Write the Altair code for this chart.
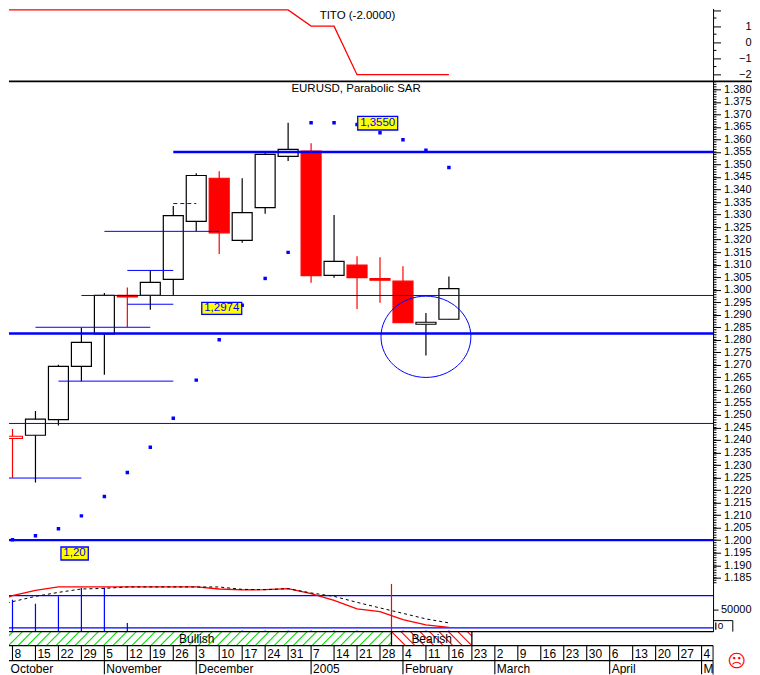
import altair as alt
import numpy as np
import pandas as pd

# ---- weekly candles (week index 0 = 8 Oct) ----
week = list(range(20))
high = [1.2444,1.2516,1.2700,1.2848,1.2987,1.3009,1.3077,1.3334,1.3465,1.3473,1.3445,1.3550,1.3667,1.3585,1.3298,1.3134,1.3130,1.3094,1.2907,1.3053]
low = [1.2249,1.2230,1.2458,1.2635,1.2660,1.2851,1.2920,1.2977,1.3233,1.3143,1.3187,1.3303,1.3514,1.3028,1.3048,1.2923,1.2948,1.2868,1.2737,1.2882]
body_top = [1.2415,1.2483,1.2694,1.2790,1.2977,1.2977,1.3029,1.3296,1.3456,1.3445,1.3308,1.3540,1.3560,1.3553,1.3113,1.3098,1.3044,1.3034,1.2870,1.3004]
body_bot = [1.2406,1.2419,1.2481,1.2694,1.2824,1.2971,1.2977,1.3041,1.3273,1.3227,1.3197,1.3328,1.3532,1.3056,1.3057,1.3048,1.3038,1.2868,1.2862,1.2882]
kind = ["hollow","up","up","up","up","down","up","up","up","down","up","up","up","down","up","down","down","down","up","up"]
sar = [1.2002,1.2018,1.2046,1.2097,1.2174,1.2270,1.2371,1.2487,1.2639,1.2800,1.2938,1.3045,1.3149,1.3667,1.3667,1.3660,1.3627,1.3599,1.3557,1.3488]

# ---- support / resistance levels ----
thick_y = [1.3550,1.2825,1.2000]
thick_a = [7,-2,-2]
thin_y = [1.2977,1.2466,1.2248,1.2635,1.2850,1.2942,1.3077,1.3233]
thin_a = [3,-2,-2,2,1,5,5,4]
thin_b = [30.5,30.5,3,7,6,7,7,9]
dash_y = [1.3344]
dash_a = [7]
dash_b = [8]

# ---- indicators ----
tito_x = [-1,12,13,14,15,19]
tito_y = [2,2,1,1,-2,-2]
vol = [72700,63600,80200,100000,100000,19800,0,0,0,0,2300,2300,2300,2300,2300,2300,0,2300,2300,2300]
ma_x = list(range(-1,20))
ma_red = [63600,81800,93900,101600,101600,101600,101600,101600,101600,101600,97000,94800,95500,97700,86400,71100,51600,45500,27300,15200,9800]
ma_blk = [54500,68200,80200,89300,97000,98400,101600,101600,101600,101600,101600,96100,95500,97700,88000,80200,66600,53900,41600,28900,19800]
vol_lines = [81800,8400]

# ---- time axis text ----
date_x = list(range(31))
date_labels = ["8","15","22","29","5","12","19","26","3","10","17","24","31","7","14","21","28","4","11","16","23","2","9","16","23","30","6","13","20","27","4"]
month_x = [-0.17,4,8,13,17,21,26,30]
month_labels = ["October","November","December","2005","February","March","April","May"]

FONT = "Liberation Sans"
BLUE = "#0000ff"
RED = "#ff0000"
W = 705
XMIN, XMAX = -0.1522, 30.5
xs = alt.Scale(domain=[XMIN, XMAX], nice=False, zero=False, padding=0)
X = lambda f="x": alt.X(f"{f}:Q", scale=xs, axis=None)

def y_axis(values, fmt, hide=None, tick=7.5):
    kw = {}
    if hide is not None:
        kw["labelExpr"] = f"datum.value=={hide}?'':datum.label"
    return alt.Axis(orient="right", values=values, format=fmt, title=None, grid=False,
                    domainColor="black", tickColor="black", labelColor="black",
                    tickSize=tick, labelPadding=38 - tick, labelAlign="right", labelBaseline="middle",
                    labelFont=FONT, labelFontSize=11, labelOverlap=False, labelFlush=False, **kw)

def ticks_layer(values, Yf, span=0.15):
    d = pd.DataFrame({"y": values, "x": XMAX, "x2": XMAX + span})
    return alt.Chart(d).mark_rule(color="black", strokeWidth=1, clip=False).encode(
        x=X(), x2="x2:Q", y=Yf())

# ---------- TITO pane ----------
ys_t = alt.Scale(domain=[-2.4136, 2.0926], nice=False, zero=False)
axis_t = y_axis([2,1,0,-1,-2], "d", hide=2)
Yt = lambda f="y": alt.Y(f"{f}:Q", scale=ys_t, axis=axis_t)
t_line = alt.Chart(pd.DataFrame({"x": tito_x, "y": tito_y})).mark_line(color=RED, strokeWidth=1.3, clip=True).encode(x=X(), y=Yt())
t_text = alt.Chart(pd.DataFrame({"x": [15.02], "y": [1.6], "t": ["TITO (-2.0000)"]})).mark_text(
    font=FONT, fontSize=11.5, color="black", baseline="middle", clip=True).encode(x=X(), y=Yt(), text="t:N")
t_min = ticks_layer([1.5,0.5,-0.5,-1.5], Yt)
t_base = alt.Chart(pd.DataFrame({"x": [XMIN], "x2": [32.5], "y": [-2.4136]})).mark_rule(color="black", strokeWidth=1.6, clip=False).encode(
    x=X(), x2="x2:Q", y=Yt())
pane_t = alt.layer(t_line, t_text, t_min, t_base).properties(width=W, height=73)

# ---------- Price pane ----------
ys_p = alt.Scale(domain=[1.18263, 1.38319], nice=False, zero=False)
axis_p = y_axis(list(np.round(np.arange(1.185,1.3801,0.005),3)), ".3f")
Yp = lambda f="y": alt.Y(f"{f}:Q", scale=ys_p, axis=axis_p)
candles = pd.DataFrame({"x": week, "hi": high, "lo": low, "top": body_top, "bot": body_bot, "kind": kind, "sar": sar})
stroke_s = alt.Scale(domain=["up","down","hollow"], range=["black",RED,RED])
fill_s = alt.Scale(domain=["up","down","hollow"], range=["white",RED,"white"])
wicks = alt.Chart(candles).mark_rule(strokeWidth=1.2, clip=True).encode(
    x=X(), y=Yp("hi"), y2="lo:Q", stroke=alt.Stroke("kind:N", scale=stroke_s, legend=None))
bodies = alt.Chart(candles).mark_bar(size=20, strokeWidth=1.2, clip=True, orient="vertical").encode(
    x=X(), y=Yp("top"), y2="bot:Q",
    fill=alt.Fill("kind:N", scale=fill_s, legend=None),
    stroke=alt.Stroke("kind:N", scale=stroke_s, legend=None))
thin = alt.Chart(pd.DataFrame({"x": thin_a, "x2": thin_b, "y": thin_y})).mark_rule(color=BLUE, strokeWidth=1, clip=True).encode(
    x=X(), x2="x2:Q", y=Yp())
thick = alt.Chart(pd.DataFrame({"x": thick_a, "x2": [XMAX]*3, "y": thick_y})).mark_rule(color=BLUE, strokeWidth=2.4, clip=True).encode(
    x=X(), x2="x2:Q", y=Yp())
dash = alt.Chart(pd.DataFrame({"x": dash_a, "x2": dash_b, "y": dash_y})).mark_rule(color=BLUE, strokeWidth=1, strokeDash=[4,3], clip=True).encode(
    x=X(), x2="x2:Q", y=Yp())
dots = alt.Chart(candles).mark_point(shape="square", filled=True, size=12, color=BLUE, opacity=1, clip=True).encode(
    x=X(), y=Yp("sar"))
ellipse = alt.Chart(pd.DataFrame({"x": [18.0], "y": [1.2812]})).mark_point(
    shape="M -1.106 0 A 1.106 1 0 1 0 1.106 0 A 1.106 1 0 1 0 -1.106 0 Z",
    filled=False, size=6624, color=BLUE, strokeWidth=1, opacity=1, clip=True).encode(x=X(), y=Yp())
tag = pd.DataFrame({"x": [15.03,8.24,2.11], "x2": [16.77,9.98,3.30],
                    "y": [1.36923,1.29495,1.19727], "y2": [1.36377,1.29017,1.19208],
                    "cx": [15.9,9.11,2.70], "cy": [1.36651,1.29256,1.19468],
                    "t": ["1,3550","1,2974","1,20"]})
tag_box = alt.Chart(tag).mark_rect(fill="#ffff00", stroke=BLUE, strokeWidth=1.3, clip=True).encode(
    x=X(), x2="x2:Q", y=Yp(), y2="y2:Q")
tag_txt = alt.Chart(tag).mark_text(font=FONT, fontSize=11.5, color=BLUE, baseline="middle", clip=True).encode(
    x=X("cx"), y=Yp("cy"), text="t:N")
title = alt.Chart(pd.DataFrame({"x": [14.96], "y": [1.3802], "t": ["EURUSD, Parabolic SAR"]})).mark_text(
    font=FONT, fontSize=11.5, color="black", baseline="middle", clip=True).encode(x=X(), y=Yp(), text="t:N")
p_min = ticks_layer(list(np.round(np.arange(1.183,1.3835,0.001),3)), Yp)
pane_p = alt.layer(wicks, bodies, thin, thick, dash, dots, ellipse, tag_box, tag_txt, title, p_min).properties(width=W, height=503)

# ---------- Volume pane ----------
ys_v = alt.Scale(domain=[0, 109091], nice=False, zero=False)
axis_v = y_axis([50000], "d", tick=5)
Yv = lambda f="y": alt.Y(f"{f}:Q", scale=ys_v, axis=axis_v)
vol_d = pd.DataFrame({"x": week, "y": vol, "y0": [0]*20})
bars = alt.Chart(vol_d).mark_rule(color=BLUE, strokeWidth=1.2, clip=True).encode(x=X(), y=Yv(), y2="y0:Q")
v_lines = alt.Chart(pd.DataFrame({"x": [XMIN]*2, "x2": [XMAX]*2, "y": vol_lines})).mark_rule(color=BLUE, strokeWidth=1.2, clip=True).encode(
    x=X(), x2="x2:Q", y=Yv())
red_l = alt.Chart(pd.DataFrame({"x": ma_x, "y": ma_red})).mark_line(color=RED, strokeWidth=1.3, clip=True).encode(x=X(), y=Yv())
blk_l = alt.Chart(pd.DataFrame({"x": ma_x, "y": ma_blk})).mark_line(color="black", strokeWidth=1, strokeDash=[3,3], clip=True).encode(x=X(), y=Yv())
marker = alt.Chart(pd.DataFrame({"x": [16.5], "y": [0], "y2": [109091]})).mark_rule(color=RED, strokeWidth=1.2, clip=True).encode(x=X(), y=Yv(), y2="y2:Q")
br_t = alt.Chart(pd.DataFrame({"x": [XMAX], "x2": [31.36], "y": [25000]})).mark_rule(color="black", strokeWidth=1, clip=False).encode(x=X(), x2="x2:Q", y=Yv())
br_r = alt.Chart(pd.DataFrame({"x": [31.36], "y": [0], "y2": [25000]})).mark_rule(color="black", strokeWidth=1, clip=False).encode(x=X(), y=Yv(), y2="y2:Q")
br_l = alt.Chart(pd.DataFrame({"x": [30.62], "y": [4000], "y2": [21000]})).mark_rule(color="black", strokeWidth=1.2, clip=False).encode(x=X(), y=Yv(), y2="y2:Q")
br_0 = alt.Chart(pd.DataFrame({"x": [30.82], "y": [12500], "t": ["0"]})).mark_text(font=FONT, fontSize=10, color="black", baseline="middle", clip=False).encode(x=X(), y=Yv(), text="t:N")
pane_v = alt.layer(bars, v_lines, red_l, blk_l, marker, br_t, br_r, br_l, br_0).properties(width=W, height=48)

# ---------- Bullish / Bearish band ----------
ys_b = alt.Scale(domain=[0, 14], nice=False, zero=False)
Yb = lambda f="y": alt.Y(f"{f}:Q", scale=ys_b, axis=None)
RISE, STEP = 14/23, 9.5/23
bx, bx2, by2 = [], [], []
for x0 in np.arange(-1.0, 16.5, STEP):
    x1 = min(x0 + RISE, 16.5)
    bx.append(x0); bx2.append(x1); by2.append((x1 - x0) / RISE * 14)
rx, rx2, ry2 = [], [], []
for x0 in np.arange(16.5, 20, STEP):
    x1 = min(x0 + RISE, 20)
    rx.append(x0); rx2.append(x1); ry2.append(14 - (x1 - x0) / RISE * 14)
hatch_g = alt.Chart(pd.DataFrame({"x": bx, "x2": bx2, "y": [0]*len(bx), "y2": by2})).mark_rule(color="#00dd00", strokeWidth=1.1, clip=True).encode(
    x=X(), x2="x2:Q", y=Yb(), y2="y2:Q")
hatch_r = alt.Chart(pd.DataFrame({"x": rx, "x2": rx2, "y": [14]*len(rx), "y2": ry2})).mark_rule(color=RED, strokeWidth=1.1, clip=True).encode(
    x=X(), x2="x2:Q", y=Yb(), y2="y2:Q")
band_sep = alt.Chart(pd.DataFrame({"x": [-0.47,16.5,20], "y": [0,0,0], "y2": [14,14,14]})).mark_rule(color="black", strokeWidth=1.3, clip=True).encode(
    x=X(), y=Yb(), y2="y2:Q")
band_lines = alt.Chart(pd.DataFrame({"x": [XMIN]*2, "x2": [XMAX]*2, "y": [0,14]})).mark_rule(color="black", strokeWidth=1.3, clip=False).encode(
    x=X(), x2="x2:Q", y=Yb())
band_txt = alt.Chart(pd.DataFrame({"x": [8.02,18.25], "y": [7,7], "t": ["Bullish","Bearish"]})).mark_text(
    font=FONT, fontSize=12, color="black", baseline="middle", clip=True).encode(x=X(), y=Yb(), text="t:N")
pane_b = alt.layer(hatch_g, hatch_r, band_sep, band_lines, band_txt).properties(width=W, height=14)

# ---------- Date row ----------
ys_d = alt.Scale(domain=[0, 1], nice=False, zero=False)
Yd = lambda f="y": alt.Y(f"{f}:Q", scale=ys_d, axis=None)
date_d = pd.DataFrame({"x": date_x, "y": [0]*31, "y2": [1]*31, "ty": [0.46]*31, "t": date_labels})
d_sep = alt.Chart(date_d).mark_rule(color="black", strokeWidth=1.1, clip=True).encode(x=X(), y=Yd(), y2="y2:Q")
d_txt = alt.Chart(date_d).mark_text(font=FONT, fontSize=12, color="black", align="left", baseline="middle", dx=2, clip=True).encode(
    x=X(), y=Yd("ty"), text="t:N")
d_line = alt.Chart(pd.DataFrame({"x": [XMIN], "x2": [XMAX], "y": [0]})).mark_rule(color="black", strokeWidth=1.3, clip=False).encode(
    x=X(), x2="x2:Q", y=Yd())
d_end = alt.Chart(pd.DataFrame({"x": [XMAX], "y": [0], "y2": [1]})).mark_rule(color="black", strokeWidth=1, clip=False).encode(x=X(), y=Yd(), y2="y2:Q")
pane_d = alt.layer(d_sep, d_txt, d_line, d_end).properties(width=W, height=15)

# ---------- Month row ----------
month_d = pd.DataFrame({"x": month_x, "y": [0]*8, "y2": [1]*8, "ty": [0.42]*8, "t": month_labels})
m_sep = alt.Chart(month_d[month_d.x >= 0]).mark_rule(color="black", strokeWidth=1.1, clip=True).encode(x=X(), y=Yd(), y2="y2:Q")
m_txt = alt.Chart(month_d).mark_text(font=FONT, fontSize=12, color="black", align="left", baseline="middle", dx=2, clip=True).encode(
    x=X(), y=Yd("ty"), text="t:N")
m_end = alt.Chart(pd.DataFrame({"x": [XMAX], "y": [0], "y2": [1]})).mark_rule(color="black", strokeWidth=1, clip=False).encode(x=X(), y=Yd(), y2="y2:Q")
face = alt.Chart(pd.DataFrame({"x": [31.53], "y": [0.93], "t": ["\u2639"]})).mark_text(
    font="DejaVu Sans", fontSize=18, color=RED, baseline="middle", clip=False).encode(x=X(), y=Yd(), text="t:N")
pane_m = alt.layer(m_sep, m_txt, m_end, face).properties(width=W, height=14)

chart = alt.vconcat(pane_t, pane_p, pane_v, pane_b, pane_d, pane_m, spacing=0, bounds="flush").properties(
    padding={"left": 0, "top": -5, "right": -8, "bottom": 0}, background="white").configure_view(stroke=None)

chart.save("out.html", embed_options={"renderer": "svg", "actions": False})
